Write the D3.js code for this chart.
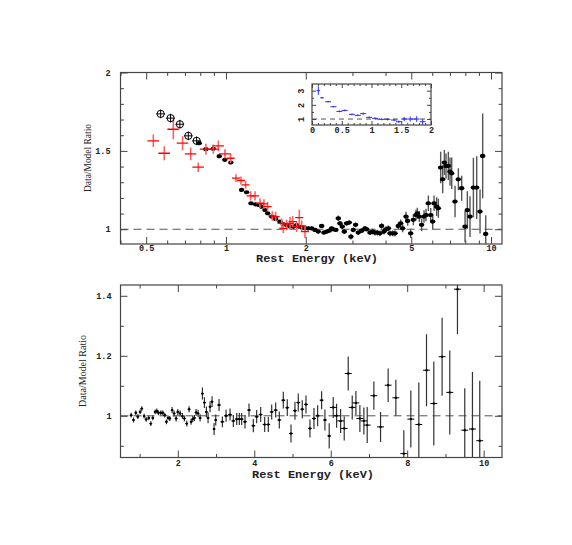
<!DOCTYPE html>
<html>
<head>
<meta charset="utf-8">
<script src="https://cdn.jsdelivr.net/npm/d3@7"></script>
<style>
  body { margin: 0; background: #fff; }
  .axis path { display: none; }
  .axis line { stroke: #444; stroke-width: 1; }
  .axis text { font-family: "Liberation Mono", monospace; font-size: 8.5px; font-weight: bold; fill: #222; }
  .title { font-family: "Liberation Mono", monospace; font-size: 10.5px; font-weight: bold; fill: #222; }
  .ylab { font-family: "Liberation Serif", serif; font-size: 11px; fill: #222; }
</style>
</head>
<body>
<div id="chart"></div>
<script>
const width = 572;
const height = 545;

// top panel, open circles
const circleE = [0.567, 0.618, 0.670, 0.721, 0.775];
const circleR = [1.736, 1.709, 1.670, 1.596, 1.564];

// top panel, filled black points
const blackE = [
  0.793, 0.840, 0.896, 0.944, 0.991, 1.044, 1.146, 1.197, 1.243, 1.294,
  1.332, 1.363, 1.404, 1.437, 1.487, 1.540, 1.599, 1.646, 1.694, 1.744,
  1.795, 1.848, 1.886, 1.941, 1.990, 2.045, 2.105, 2.167, 2.230, 2.296,
  2.343, 2.398, 2.455, 2.504, 2.541, 2.600, 2.654, 2.692, 2.748, 2.796,
  2.853, 2.920, 2.962, 3.023, 3.085, 3.157, 3.250, 3.346, 3.395, 3.495,
  3.577, 3.650, 3.724, 3.811, 3.867, 3.946, 4.015, 4.100, 4.158, 4.256,
  4.343, 4.470, 4.562, 4.642, 4.778, 4.848, 4.976, 5.093, 5.212, 5.272,
  5.364, 5.474, 5.587, 5.685, 5.802, 5.922, 6.025, 6.096, 6.236, 6.328,
  6.457, 6.570, 6.667, 6.764, 6.902, 7.003, 7.107, 7.315, 7.530, 7.750,
  7.980, 8.140, 8.330, 8.580, 8.830, 9.090, 9.300, 9.550];
const blackR = [
  1.549, 1.511, 1.513, 1.466, 1.443, 1.426, 1.251, 1.236, 1.166, 1.159,
  1.155, 1.144, 1.123, 1.102, 1.081, 1.066, 1.049, 1.032, 1.027, 1.017,
  1.017, 1.027, 1.017, 1.010, 1.006, 1.006, 1.006, 0.996, 0.985, 1.021,
  0.979, 0.985, 0.991, 1.006, 1.000, 0.996, 1.070, 1.038, 1.017, 0.985,
  1.038, 1.043, 0.953, 0.996, 1.028, 0.979, 0.991, 1.006, 1.000, 0.979,
  0.985, 0.979, 0.979, 0.974, 1.021, 0.985, 1.000, 1.006, 0.974, 0.974,
  0.974, 1.021, 1.038, 1.006, 1.081, 1.053, 0.974, 1.060, 1.091, 1.102,
  1.081, 1.028, 1.081, 1.091, 1.166, 1.091, 1.049, 1.166, 1.145, 1.134,
  1.394, 1.319, 1.426, 1.404, 1.404, 1.368, 1.357, 1.177, 1.319, 1.262,
  1.017, 1.123, 1.081, 1.266, 1.266, 1.113, 1.468, 0.970];
const blackErr = [
  0.008, 0.008, 0.008, 0.008, 0.008, 0.008, 0.008, 0.008, 0.008, 0.008,
  0.008, 0.008, 0.008, 0.008, 0.008, 0.01, 0.01, 0.01, 0.01, 0.01,
  0.01, 0.01, 0.01, 0.01, 0.01, 0.012, 0.012, 0.012, 0.012, 0.012,
  0.012, 0.012, 0.012, 0.012, 0.012, 0.012, 0.018, 0.015, 0.015, 0.015,
  0.015, 0.015, 0.018, 0.015, 0.015, 0.015, 0.015, 0.015, 0.015, 0.015,
  0.018, 0.018, 0.018, 0.018, 0.018, 0.018, 0.018, 0.018, 0.018, 0.018,
  0.02, 0.022, 0.025, 0.025, 0.03, 0.03, 0.03, 0.035, 0.035, 0.035,
  0.035, 0.04, 0.04, 0.04, 0.05, 0.045, 0.05, 0.05, 0.06, 0.06,
  0.1, 0.09, 0.08, 0.08, 0.09, 0.09, 0.1, 0.1, 0.07, 0.08,
  0.1, 0.12, 0.13, 0.19, 0.2, 0.14, 0.27, 0.12];

// top panel, red crosses
const redE = [
  0.532, 0.585, 0.633, 0.686, 0.736, 0.786, 0.840, 0.896, 0.936, 0.991,
  1.041, 1.091, 1.139, 1.186, 1.239, 1.287, 1.344, 1.391, 1.436, 1.496,
  1.540, 1.622, 1.646, 1.694, 1.744, 1.784, 1.847, 1.891, 1.930, 1.987];
const redR = [
  1.564, 1.485, 1.638, 1.549, 1.481, 1.396, 1.511, 1.511, 1.532, 1.481,
  1.453, 1.326, 1.311, 1.283, 1.213, 1.213, 1.166, 1.162, 1.145, 1.085,
  1.081, 1.038, 1.006, 1.028, 1.038, 1.049, 1.017, 1.074, 1.021, 0.985];
const redErr = [
  0.04, 0.045, 0.064, 0.045, 0.04, 0.03, 0.035, 0.03, 0.035, 0.03,
  0.03, 0.025, 0.025, 0.025, 0.03, 0.03, 0.03, 0.03, 0.03, 0.03,
  0.03, 0.03, 0.03, 0.035, 0.04, 0.035, 0.035, 0.05, 0.035, 0.04];

// inset (blue)
const insetE = [0.106, 0.168, 0.27, 0.36, 0.46, 0.55, 0.67, 0.77, 0.86, 0.96,
  1.06, 1.17, 1.27, 1.38, 1.46, 1.55, 1.65, 1.76, 1.86];
const insetR = [3.0, 2.5, 2.22, 1.87, 1.54, 1.61, 1.33, 1.26, 1.38, 1.12,
  1.05, 0.98, 0.98, 0.93, 0.81, 1.0, 1.0, 1.0, 0.81];
const insetErr = [0.3, 0.06, 0.05, 0.05, 0.06, 0.06, 0.06, 0.06, 0.08, 0.06,
  0.07, 0.07, 0.08, 0.08, 0.08, 0.15, 0.18, 0.2, 0.2];

// bottom panel
const lowE = [
  0.779, 0.840, 0.901, 0.953, 1.014, 1.057, 1.118, 1.171, 1.240, 1.293,
  1.345, 1.406, 1.449, 1.493, 1.554, 1.606, 1.658, 1.702, 1.745, 1.789,
  1.850, 1.902, 1.955, 1.998, 2.059, 2.120, 2.172, 2.233, 2.294, 2.347,
  2.390, 2.434, 2.477, 2.529, 2.582, 2.643, 2.695, 2.747, 2.791, 2.843,
  2.895, 2.948, 2.991, 3.078, 3.165, 3.261, 3.366, 3.453, 3.540, 3.609,
  3.670, 3.757, 3.862, 3.975, 4.062, 4.167, 4.271, 4.367, 4.455, 4.559,
  4.655, 4.759, 4.863, 4.960, 5.064, 5.151, 5.255, 5.352, 5.456, 5.561,
  5.657, 5.761, 5.848, 5.960, 6.065, 6.153, 6.258, 6.353, 6.457, 6.562,
  6.658, 6.762, 6.867, 6.954, 7.128, 7.303, 7.502, 7.703, 7.912, 8.095,
  8.304, 8.505, 8.696, 8.913, 9.114, 9.315, 9.506, 9.707, 9.898];
const lowR = [
  1.002, 0.986, 1.010, 0.997, 1.013, 1.024, 0.999, 0.988, 0.993, 0.974,
  0.993, 1.013, 1.016, 1.010, 1.010, 1.010, 1.002, 0.980, 0.993, 0.991,
  1.019, 1.008, 0.991, 1.013, 1.008, 0.999, 0.991, 0.974, 1.022, 0.980,
  0.989, 0.993, 1.011, 1.008, 0.993, 1.074, 1.044, 1.013, 0.993, 1.030,
  1.047, 0.956, 0.986, 1.036, 0.980, 1.000, 1.004, 0.983, 0.989, 0.989,
  0.989, 0.980, 1.019, 0.967, 0.997, 1.004, 0.971, 0.971, 1.013, 1.019,
  0.986, 1.052, 1.027, 0.941, 1.017, 1.044, 1.022, 1.038, 0.958, 0.991,
  1.000, 1.052, 0.986, 0.933, 1.028, 1.000, 0.983, 0.958, 1.141, 1.028,
  1.043, 0.991, 0.983, 0.969, 1.067, 0.963, 1.102, 1.060, 0.874, 0.989,
  0.971, 1.152, 1.041, 1.197, 1.078, 1.422, 0.952, 0.956, 0.917];
const lowErr = [
  0.008, 0.008, 0.008, 0.008, 0.008, 0.008, 0.008, 0.008, 0.008, 0.008,
  0.008, 0.008, 0.008, 0.008, 0.008, 0.008, 0.008, 0.008, 0.008, 0.008,
  0.01, 0.01, 0.01, 0.01, 0.01, 0.01, 0.01, 0.01, 0.01, 0.01,
  0.01, 0.01, 0.012, 0.012, 0.012, 0.02, 0.018, 0.018, 0.018, 0.018,
  0.018, 0.02, 0.018, 0.02, 0.018, 0.02, 0.02, 0.02, 0.02, 0.02,
  0.02, 0.022, 0.022, 0.022, 0.022, 0.025, 0.025, 0.025, 0.025, 0.025,
  0.028, 0.028, 0.028, 0.03, 0.03, 0.03, 0.03, 0.03, 0.03, 0.035,
  0.035, 0.03, 0.035, 0.042, 0.035, 0.04, 0.04, 0.04, 0.057, 0.04,
  0.04, 0.045, 0.045, 0.06, 0.047, 0.05, 0.056, 0.06, 0.078, 0.095,
  0.14, 0.12, 0.14, 0.13, 0.14, 0.15, 0.14, 0.19, 0.2];

// ticks
const topXTicks = [0.5, 1, 2, 5, 10];
const topXMinor = [0.4, 0.6, 0.7, 0.8, 0.9, 3, 4, 6, 7, 8, 9];
const topYTicks = [1, 1.5, 2];
const topYMinor = [1.1, 1.2, 1.3, 1.4, 1.6, 1.7, 1.8, 1.9];
const insetXTicks = [0, 0.5, 1, 1.5, 2];
const insetXMinor = [0.1, 0.2, 0.3, 0.4, 0.6, 0.7, 0.8, 0.9, 1.1, 1.2, 1.3, 1.4, 1.6, 1.7, 1.8, 1.9];
const insetYTicks = [1, 2, 3];
const insetYMinor = [1.5, 2.5];
const lowXTicks = [2, 4, 6, 8, 10];
const lowXMinor = [1, 3, 5, 7, 9];
const lowYTicks = [1, 1.2, 1.4];
const lowYMinor = [0.9, 1.1, 1.3];

const zip = (es, rs, errs) => es.map((e, i) => ({e, r: rs[i], err: errs ? errs[i] : 0}));

const svg = d3.select("#chart")
  .append("svg")
  .attr("width", width)
  .attr("height", height);

const defs = svg.append("defs");

const tickAxis = (axis, pos, values, size, fmt, pad) =>
  svg.append("g")
    .attr("class", "axis")
    .attr("transform", pos)
    .call(axis.tickValues(values).tickSize(-size).tickPadding(pad || 3).tickFormat(fmt || ""));

const drawFrame = (x, y, o) => {
  const [xl, xr] = x.range();
  const [yb, yt] = y.range();
  const lab = d => d;
  tickAxis(d3.axisBottom(x), `translate(0,${yb})`, o.xTicks, o.major, lab, o.xPad);
  tickAxis(d3.axisBottom(x), `translate(0,${yb})`, o.xMinor, o.minor);
  tickAxis(d3.axisTop(x), `translate(0,${yt})`, o.xTicks, o.major);
  tickAxis(d3.axisTop(x), `translate(0,${yt})`, o.xMinor, o.minor);
  const left = tickAxis(d3.axisLeft(y), `translate(${xl},0)`, o.yTicks, o.major, lab, o.yPad);
  tickAxis(d3.axisLeft(y), `translate(${xl},0)`, o.yMinor, o.minor);
  tickAxis(d3.axisRight(y), `translate(${xr},0)`, o.yTicks, o.major);
  tickAxis(d3.axisRight(y), `translate(${xr},0)`, o.yMinor, o.minor);
  svg.append("rect")
    .attr("x", xl).attr("y", yt)
    .attr("width", xr - xl).attr("height", yb - yt)
    .attr("fill", "none")
    .attr("stroke", "#444")
    .attr("stroke-width", 1.2);
  return left;
};

const clipped = (id, x, y) => {
  const [xl, xr] = x.range();
  const [yb, yt] = y.range();
  defs.append("clipPath").attr("id", id)
    .append("rect")
    .attr("x", xl).attr("y", yt)
    .attr("width", xr - xl).attr("height", yb - yt);
  return svg.append("g").attr("clip-path", `url(#${id})`);
};

const unityLine = (g, x, y, dash) =>
  g.append("line")
    .attr("x1", x.range()[0]).attr("x2", x.range()[1])
    .attr("y1", y(1)).attr("y2", y(1))
    .attr("stroke", "#555")
    .attr("stroke-width", 1)
    .attr("stroke-dasharray", dash);

const crosses = (g, data, x, y, dx, vColor, hColor, vw, hw, cls) => {
  g.selectAll(`.${cls}v`)
    .data(data)
    .join("line")
    .attr("class", `${cls}v`)
    .attr("x1", d => x(d.e)).attr("x2", d => x(d.e))
    .attr("y1", d => y(d.r - d.err)).attr("y2", d => y(d.r + d.err))
    .attr("stroke", vColor)
    .attr("stroke-width", vw);
  g.selectAll(`.${cls}h`)
    .data(data)
    .join("line")
    .attr("class", `${cls}h`)
    .attr("x1", d => x(d.e - dx(d))).attr("x2", d => x(d.e + dx(d)))
    .attr("y1", d => y(d.r)).attr("y2", d => y(d.r))
    .attr("stroke", hColor)
    .attr("stroke-width", hw);
};

const title = (x, y) =>
  svg.append("text")
    .attr("class", "title")
    .attr("x", x)
    .attr("y", y)
    .attr("text-anchor", "middle")
    .attr("textLength", 122)
    .attr("lengthAdjust", "spacingAndGlyphs")
    .text("Rest Energy (keV)");

const yTitle = (x, y, len) =>
  svg.append("text")
    .attr("class", "ylab")
    .attr("transform", `translate(${x},${y}) rotate(-90)`)
    .attr("text-anchor", "middle")
    .attr("textLength", len)
    .attr("lengthAdjust", "spacingAndGlyphs")
    .text("Data/Model Ratio");

// ---------------- top panel ----------------
const xTop = d3.scaleLog().domain([0.4, 11]).range([120.5, 502]);
const yTop = d3.scaleLinear().domain([0.906, 2]).range([244, 72.5]);

const gTop = clipped("clipTop", xTop, yTop);
unityLine(gTop, xTop, yTop, "8,5");

const blk = zip(blackE, blackR, blackErr);
crosses(gTop, blk, xTop, yTop, d => d.e * 0.012, "#555", "#000", 1.4, 1, "blk");
gTop.selectAll(".blkdot")
  .data(blk)
  .join("ellipse")
  .attr("class", "blkdot")
  .attr("cx", d => xTop(d.e))
  .attr("cy", d => yTop(d.r))
  .attr("rx", 2.7)
  .attr("ry", 2.1)
  .attr("fill", "#000");

const red = zip(redE, redR, redErr);
crosses(gTop, red, xTop, yTop, d => d.e * (d.e < 1 ? 0.05 : 0.035), "#ff6060", "#ff0000", 1.6, 1.3, "red");

const circ = zip(circleE, circleR);
crosses(gTop, circ.map(d => ({...d, err: 0.028})), xTop, yTop, d => d.e * 0.038, "#000", "#000", 1, 1, "circ");
gTop.selectAll(".circdot")
  .data(circ)
  .join("circle")
  .attr("class", "circdot")
  .attr("cx", d => xTop(d.e))
  .attr("cy", d => yTop(d.r))
  .attr("r", 3.6)
  .attr("fill", "none")
  .attr("stroke", "#000")
  .attr("stroke-width", 1);

drawFrame(xTop, yTop, {
  xTicks: topXTicks, xMinor: topXMinor, yTicks: topYTicks, yMinor: topYMinor,
  major: 7, minor: 3.5, xPad: 1, yPad: 10
});

title(317, 262);
yTitle(91, 158, 68);

// ---------------- inset ----------------
const xIn = d3.scaleLinear().domain([0, 2]).range([312, 431]);
const yIn = d3.scaleLinear().domain([0.58, 3.47]).range([125, 84]);

svg.append("rect")
  .attr("x", 312).attr("y", 84)
  .attr("width", 119).attr("height", 41)
  .attr("fill", "#fff");

const gIn = clipped("clipIn", xIn, yIn);
unityLine(gIn, xIn, yIn, "5,4");
crosses(gIn, zip(insetE, insetR, insetErr), xIn, yIn, d => d.e < 0.2 ? 0.03 : 0.05, "#2a2aff", "#2a2aff", 1, 1, "ins");

const inLeft = drawFrame(xIn, yIn, {
  xTicks: insetXTicks, xMinor: insetXMinor, yTicks: insetYTicks, yMinor: insetYMinor,
  major: 4, minor: 2, xPad: 2, yPad: 6
});
inLeft.selectAll("text")
  .attr("x", null)
  .attr("dy", null)
  .attr("text-anchor", "middle")
  .attr("transform", "translate(-8,0) rotate(-90)");

// ---------------- bottom panel ----------------
const xLow = d3.scaleLinear().domain([0.5, 10.48]).range([120.5, 502]);
const yLow = d3.scaleLinear().domain([0.861, 1.436]).range([457.5, 285]);

const gLow = clipped("clipLow", xLow, yLow);
unityLine(gLow, xLow, yLow, "8,5");
const low = zip(lowE, lowR, lowErr);
crosses(gLow, low, xLow, yLow, d => d.e < 3 ? 0.035 : (d.e < 6 ? 0.05 : 0.09), "#333", "#000", 1.2, 1, "low");
gLow.selectAll(".lowdot")
  .data(low)
  .join("circle")
  .attr("class", "lowdot")
  .attr("cx", d => xLow(d.e))
  .attr("cy", d => yLow(d.r))
  .attr("r", 1.2)
  .attr("fill", "#000");

drawFrame(xLow, yLow, {
  xTicks: lowXTicks, xMinor: lowXMinor, yTicks: lowYTicks, yMinor: lowYMinor,
  major: 7, minor: 3.5, xPad: 2, yPad: 9
});

title(313, 478);
yTitle(86, 371, 72);
</script>
</body>
</html>
